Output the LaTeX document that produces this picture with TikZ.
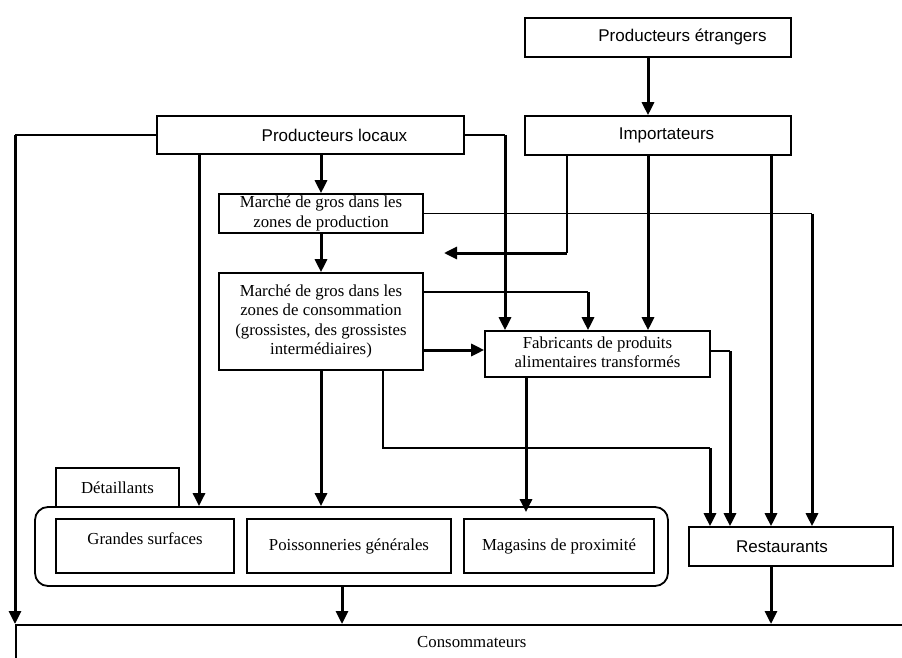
\documentclass[tikz,border=0pt]{standalone}
\usepackage{fontspec}
\setmainfont{Liberation Serif}
\setsansfont{Liberation Sans}
\usetikzlibrary{arrows.meta}
\begin{document}
\begin{tikzpicture}[x=1pt,y=-1pt,
  box/.style={draw, line width=1.6pt, inner sep=0pt, align=center,
              font=\fontsize{16.8}{19.5}\selectfont},
  sbox/.style={box, font=\sffamily\fontsize{17}{20}\selectfont},
  thinl/.style={line width=1.6pt},
  thk/.style={line width=3pt},
  arr/.style={thk, -{Triangle[length=13pt,width=12pt]}},
]
\path[use as bounding box] (0,0) rectangle (902,658);
\clip (0,0) rectangle (902,658);

% column / row helper coordinates
\foreach \c in {15,199,342,383,505,526,567,588,648,710,730,771,812}
  {\coordinate (c\c) at (\c,0);}
\foreach \r in {253,292,350,351,448}
  {\coordinate (r\r) at (0,\r);}

% nodes
\node[sbox, minimum width=266pt, minimum height=39pt] (etr) at (658,37.5)
  {\raisebox{-3pt}{\hspace*{49pt}Producteurs étrangers}};
\node[sbox, minimum width=266pt, minimum height=39pt] (imp) at (658,135.5)
  {\hspace*{17pt}Importateurs};
\node[sbox, minimum width=307pt, minimum height=38pt] (loc) at (310.5,135)
  {\raisebox{-5pt}{\hspace*{48pt}Producteurs locaux}};
\node[box, minimum width=204pt, minimum height=39pt] (prod) at (321,213.5)
  {Marché de gros dans les\\zones de production};
\node[box, minimum width=204pt, minimum height=97pt] (conso) at (321,321.5)
  {Marché de gros dans les\\zones de consommation\\(grossistes, des grossistes\\intermédiaires)};
\node[box, minimum width=225pt, minimum height=46pt] (fab) at (597.5,354)
  {\raisebox{2pt}{\begin{tabular}{@{}c@{}}Fabricants de produits\\alimentaires transformés\end{tabular}}};
\node[draw, line width=1.8pt, rounded corners=13pt, minimum width=633pt, minimum height=79pt, inner sep=0pt]
  (det) at (351.5,546.5) {};
\node[box, minimum width=123pt, minimum height=39pt] (tab) at (117.5,487.5)
  {\raisebox{-4pt}{Détaillants}};
\node[box, minimum width=178pt, minimum height=54pt] (gs) at (145,546)
  {\raisebox{14pt}{Grandes surfaces}};
\node[box, minimum width=204pt, minimum height=54pt] (poi) at (349,546)
  {\raisebox{-3pt}{Poissonneries générales}};
\node[box, minimum width=190pt, minimum height=54pt] (mag) at (559,546)
  {Magasins de proximité};
\node[sbox, minimum width=204pt, minimum height=39pt] (rest) at (791,546.5)
  {\raisebox{-3pt}{Restaurants\hspace*{18pt}}};
\node[box, anchor=north west, minimum width=912pt, minimum height=40pt] (con) at (15,624)
  {\raisebox{6pt}{Consommateurs}};

% connectors
\draw[arr] (etr.south -| c648) -- (imp.north -| c648);

\draw[thinl] (loc.west) -- (loc.west -| c15);
\draw[arr] (loc.west -| c15) -- (con.north -| c15);

\draw[arr] (loc.south -| c199) -- (det.north -| c199);
\draw[arr] (loc.south -| prod.north) -- (prod.north);

\draw[thinl] (loc.east) -- (loc.east -| c505);
\draw[arr] (loc.east -| c505) -- (fab.north -| c505);

\draw[arr] (prod.south) -- (conso.north);

\draw[thinl] (prod.east) -- (prod.east -| c812);
\draw[arr] (prod.east -| c812) -- (rest.north -| c812);

\coordinate (free) at (444,253);
\draw[thinl] (imp.south -| c567) -- (c567 |- r253);
\draw[arr] (c567 |- r253) -- (free);

\draw[arr] (imp.south -| c648) -- (fab.north -| c648);
\draw[arr] (imp.south -| c771) -- (rest.north -| c771);

\draw[thinl] (conso.east |- r292) -- (c588 |- r292);
\draw[arr] (c588 |- r292) -- (fab.north -| c588);

\draw[arr] (conso.east |- r350) -- (fab.west |- r350);

\draw[arr] (conso.south) -- (det.north -| conso.south);

\draw[thinl] (conso.south -| c383) -- (c383 |- r448) -- (c710 |- r448);
\draw[arr] (c710 |- r448) -- (rest.north -| c710);

\draw[thinl] (fab.east |- r351) -- (c730 |- r351);
\draw[arr] (c730 |- r351) -- (rest.north -| c730);

\draw[arr] (fab.south -| c526) -- ([yshift=-6pt]det.north -| c526);

\draw[arr] (det.south -| c342) -- (con.north -| c342);
\draw[arr] (rest.south -| c771) -- (con.north -| c771);
\end{tikzpicture}
\end{document}
